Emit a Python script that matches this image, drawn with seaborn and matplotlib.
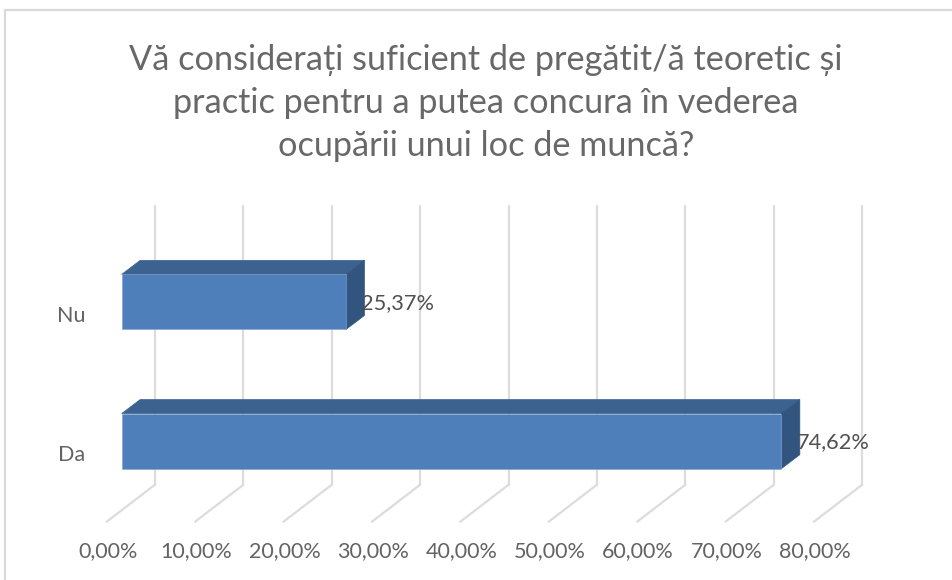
import matplotlib
matplotlib.use('Agg')
import matplotlib.pyplot as plt
import matplotlib.transforms as mtrans
from matplotlib.lines import Line2D
from matplotlib.patches import Polygon
import seaborn as sns

# Data
categories = ['Nu', 'Da']
values = [25.37, 74.62]
value_labels = ['25,37%', '74,62%']
x_ticks = [0, 10, 20, 30, 40, 50, 60, 70, 80]
x_tick_labels = ['0,00%', '10,00%', '20,00%', '30,00%', '40,00%',
                 '50,00%', '60,00%', '70,00%', '80,00%']
title = 'Vă considerați suficient de pregătit/ă teoretic și\npractic pentru a putea concura în vederea\nocupării unui loc de muncă?'

W, H = 953, 580
sns.set_theme(style='white')
plt.rcParams['font.family'] = ['Lato', 'DejaVu Sans']

fig = plt.figure(figsize=(W / 100, H / 100), dpi=100)

# front plane of the fake 3d box, in pixels
left, right, top, bottom = 121.7, 828.9, 232.3, 510.7
ax = fig.add_axes([left / W, 1 - bottom / H, (right - left) / W, (bottom - top) / H])
ax.set_xlim(0, 80)
ax.patch.set_alpha(0)

px_x = (right - left) / 80
px_y = (bottom - top) / 2


def offset(dx, dy):
    # shift in pixels, y going down like in the picture
    return mtrans.ScaledTranslation(dx / 100, -dy / 100, fig.dpi_scale_trans)


# gridlines on the back wall and the floor
grid = '#dcdcdc'
bdx, bdy = 33.3 / px_x, 26 / px_y
fdx, fdy = 15 / px_x, 11 / px_y
for t in x_ticks:
    ax.plot([t + bdx, t + bdx], [-0.5 - bdy, 1.5 - bdy], color=grid, lw=1.6, clip_on=False, zorder=1)
    ax.plot([t + bdx, t - fdx], [1.5 - bdy, 1.5 + fdy], color=grid, lw=1.6, clip_on=False, zorder=1)

bar_w = 0.396
sns.barplot(x=values, y=categories, order=categories, orient='h', color='#4E7FBB', saturation=1,
            width=bar_w, edgecolor='#7FA3D0', linewidth=0.4, zorder=3, ax=ax)
ax.set_xlim(0, 80)
ax.set_ylim(1.5, -0.5)

# depth faces of the bars
ddx, ddy = 18.5 / px_x, 14 / px_y
for i, v in enumerate(values):
    y0, y1 = i - bar_w / 2, i + bar_w / 2
    ax.add_patch(Polygon([(0, y0), (ddx, y0 - ddy), (v + ddx, y0 - ddy), (v, y0)],
                         facecolor='#3C628F', edgecolor='#3C628F', lw=0.5, clip_on=False, zorder=2))
    ax.add_patch(Polygon([(v, y0), (v + ddx, y0 - ddy), (v + ddx, y1 - ddy), (v, y1)],
                         facecolor='#325580', edgecolor='#325580', lw=0.5, clip_on=False, zorder=2))
    ax.text(v, i, value_labels[i], transform=ax.transData + offset(15.5, 1),
            ha='left', va='center', fontsize=15.7, color='#505050', zorder=5)

sns.despine(ax=ax, left=True, bottom=True)
ax.set_xlabel('')
ax.set_ylabel('')
ax.set_xticks(x_ticks, x_tick_labels)
ax.tick_params(axis='both', length=0, labelsize=15.5, labelcolor='#636363')
ax.tick_params(axis='x', pad=22)
ax.tick_params(axis='y', pad=26)
for lbl in ax.get_xticklabels():
    lbl.set_transform(lbl.get_transform() + offset(-14, 0))
for lbl in ax.get_yticklabels():
    lbl.set_transform(lbl.get_transform() + offset(0, 12))

fig.text(486 / W, 1 - 103 / H, title, ha='center', va='center', fontsize=24.7,
         color='#686868', linespacing=1.42)

# chart frame, only top and left are inside the crop
frame = '#d9d9d9'
fig.add_artist(Line2D([5 / W, 5 / W], [0, 1 - 10 / H], color=frame, lw=1.6))
fig.add_artist(Line2D([5 / W, 1], [1 - 10 / H, 1 - 10 / H], color=frame, lw=1.6))

fig.savefig('out.png', dpi=100)
plt.close(fig)
